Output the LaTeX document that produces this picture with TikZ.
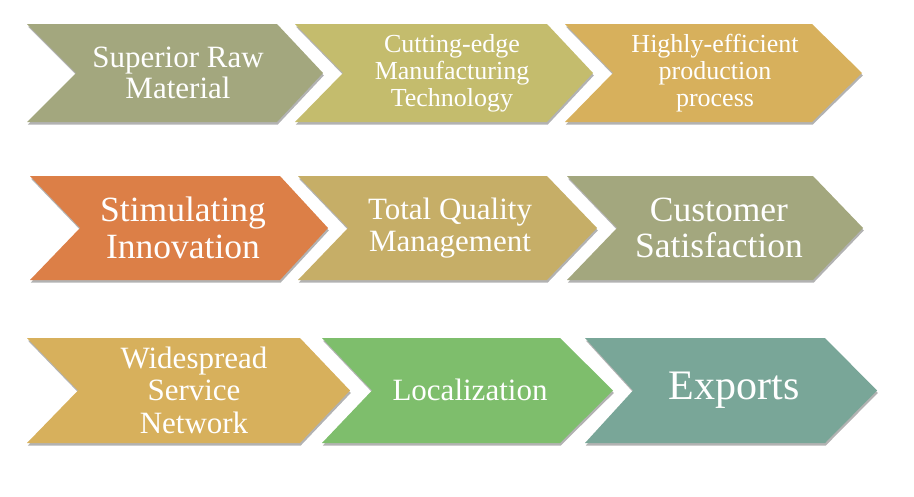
\documentclass[tikz,border=0pt]{standalone}
\usepackage{fontspec}
\setmainfont{Liberation Serif}
\usepackage{xcolor}
\usetikzlibrary{shadows}
\definecolor{sage}{HTML}{A3A77E}
\definecolor{khaki}{HTML}{C4BC6D}
\definecolor{gold}{HTML}{D7B05C}
\definecolor{rust}{HTML}{DC7F47}
\definecolor{tan}{HTML}{C6AE67}
\definecolor{leaf}{HTML}{7EBE6C}
\definecolor{teal}{HTML}{79A698}
\tikzset{
  chevron/.style={fill=#1, drop shadow={shadow xshift=0.8pt, shadow yshift=-2.5pt, opacity=0.3, fill=black}},
  steptext/.style 2 args={text=white, align=center, inner sep=0pt, font=\fontsize{#1}{#2}\selectfont}
}

\begin{document}
\begin{tikzpicture}[x=1pt, y=-1pt]
  \useasboundingbox (0,0) rectangle (914,496);
  % chevrons: left / notch / top right / tip / top / bottom / colour
  \foreach \l/\n/\r/\t/\a/\b/\c in {
      27/76/277/323/24/122/sage, 295/343/547/593/24/122/khaki, 565/613/812/862/24/122/gold,
      30/80/280/328/176/280/rust, 298/348/547/597/176/280/tan, 567/617/813/863/176/280/sage,
      27/78/300/350/338/443/gold, 322/372/560/613/338/443/leaf, 585/633/825/877/338/443/teal}
    \fill[chevron=\c] (\l,\a) -- (\r,\a) -- (\t,{(\a+\b)/2}) -- (\r,\b) -- (\l,\b) -- (\n,{(\a+\b)/2}) -- cycle;
  % row 1
  \node[steptext={31}{30.5}] (raw) at (178,73) {Superior Raw\\Material};
  \node[steptext={26}{27}] (tech) at (452,73) {Cutting-edge\\Manufacturing\\Technology};
  \node[steptext={26}{27}] (process) at (715,73) {Highly-efficient\\production\\process};
  % row 2
  \node[steptext={35.5}{36.5}] (innov) at (183,228) {Stimulating\\Innovation};
  \node[steptext={31}{32}] (quality) at (450,228) {Total Quality\\Management};
  \node[steptext={35.5}{36.5}] (customer) at (719,228) {Customer\\Satisfaction};
  % row 3
  \node[steptext={31}{32.5}] (service) at (194,390) {Widespread\\Service\\Network};
  \node[steptext={31}{32}] (local) at (470,390) {Localization};
  \node[steptext={42}{44}] (exports) at (734,390) {Exports};
\end{tikzpicture}
\end{document}
